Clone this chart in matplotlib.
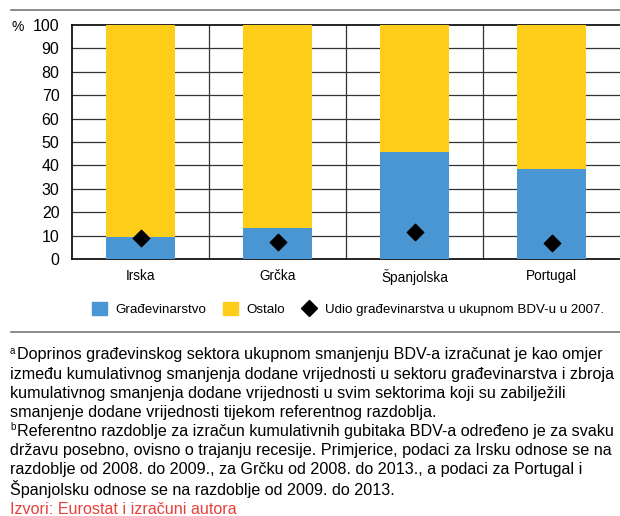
import matplotlib
matplotlib.use("Agg")
import matplotlib.pyplot as plt
from matplotlib.patches import Patch
from matplotlib.lines import Line2D
import numpy as np

drzave = ["Irska", "Grčka", "Španjolska", "Portugal"]
gradevinarstvo = [9.2, 13.4, 45.9, 38.5]
ostalo = [100 - v for v in gradevinarstvo]
udio_2007 = [9.1, 7.1, 11.4, 6.7]

plava = "#4A96D2"
zuta = "#FECD1A"

plt.rcParams["font.family"] = ["Liberation Sans", "DejaVu Sans"]

fig = plt.figure(figsize=(6.2, 5.16), dpi=100)
W, H = 620, 516
ax = fig.add_axes([72 / W, 1 - 259 / H, (620 - 72) / W, (259 - 25) / H])

x = np.arange(len(drzave))
ax.bar(x, gradevinarstvo, width=0.5, color=plava, zorder=3)
ax.bar(x, ostalo, width=0.5, bottom=gradevinarstvo, color=zuta, zorder=3)
ax.scatter(x, udio_2007, marker="D", s=70, color="black", zorder=4)

ax.set_xlim(-0.5, 3.5)
ax.set_ylim(0, 100)
ax.set_yticks(range(0, 101, 10))
ax.set_xticks(x)
ax.set_xticklabels(drzave, fontsize=9.8)
for lab in ax.get_yticklabels():
    lab.set_fontsize(11.5)
ax.tick_params(length=0, pad=7)
ax.tick_params(axis="y", pad=9)

for yv in range(10, 100, 10):
    ax.axhline(yv, color="#333333", lw=0.9, zorder=1)
for xv in [0.5, 1.5, 2.5]:
    ax.axvline(xv, color="#333333", lw=0.9, zorder=1)
ax.spines["right"].set_visible(False)
for s in ["left", "bottom", "top"]:
    ax.spines[s].set_linewidth(1.2)
    ax.spines[s].set_color("black")

fig.text(12 / W, 1 - 27 / H, "%", fontsize=10, va="center", ha="left")

# gornja i donja siva crta
fig.add_artist(Line2D([11 / W, 1], [1 - 10 / H, 1 - 10 / H], color="#777777", lw=1.2))
fig.add_artist(Line2D([11 / W, 1], [1 - 332 / H, 1 - 332 / H], color="#777777", lw=1.2))

handles = [
    Patch(color=plava, label="Građevinarstvo"),
    Patch(color=zuta, label="Ostalo"),
    Line2D([], [], marker="D", color="black", ls="none", markersize=8,
           label="Udio građevinarstva u ukupnom BDV-u u 2007."),
]
fig.legend(handles=handles, loc="center right", bbox_to_anchor=(609 / W, 1 - 309 / H),
           ncol=3, frameon=False, prop={"size": 9.6}, borderaxespad=0,
           handlelength=1.1, handleheight=1.1, handletextpad=0.6, columnspacing=1.3)

linije = [
    ("a", "Doprinos građevinskog sektora ukupnom smanjenju BDV-a izračunat je kao omjer"),
    ("", "između kumulativnog smanjenja dodane vrijednosti u sektoru građevinarstva i zbroja"),
    ("", "kumulativnog smanjenja dodane vrijednosti u svim sektorima koji su zabilježili"),
    ("", "smanjenje dodane vrijednosti tijekom referentnog razdoblja."),
    ("b", "Referentno razdoblje za izračun kumulativnih gubitaka BDV-a određeno je za svaku"),
    ("", "državu posebno, ovisno o trajanju recesije. Primjerice, podaci za Irsku odnose se na"),
    ("", "razdoblje od 2008. do 2009., za Grčku od 2008. do 2013., a podaci za Portugal i"),
    ("", "Španjolsku odnose se na razdoblje od 2009. do 2013."),
]
y0 = 355
for i, (sup, txt) in enumerate(linije):
    yy = y0 + i * 19.1
    if sup:
        fig.text(10 / W, 1 - (yy - 4) / H, sup, fontsize=7, va="center", ha="left")
        fig.text(17 / W, 1 - yy / H, txt, fontsize=11.65, va="center", ha="left")
    else:
        fig.text(10 / W, 1 - yy / H, txt, fontsize=11.65, va="center", ha="left")
fig.text(10 / W, 1 - 509 / H, "Izvori: Eurostat i izračuni autora", fontsize=11.65,
         va="center", ha="left", color="#E8403A")

fig.savefig("out.png", dpi=100)
